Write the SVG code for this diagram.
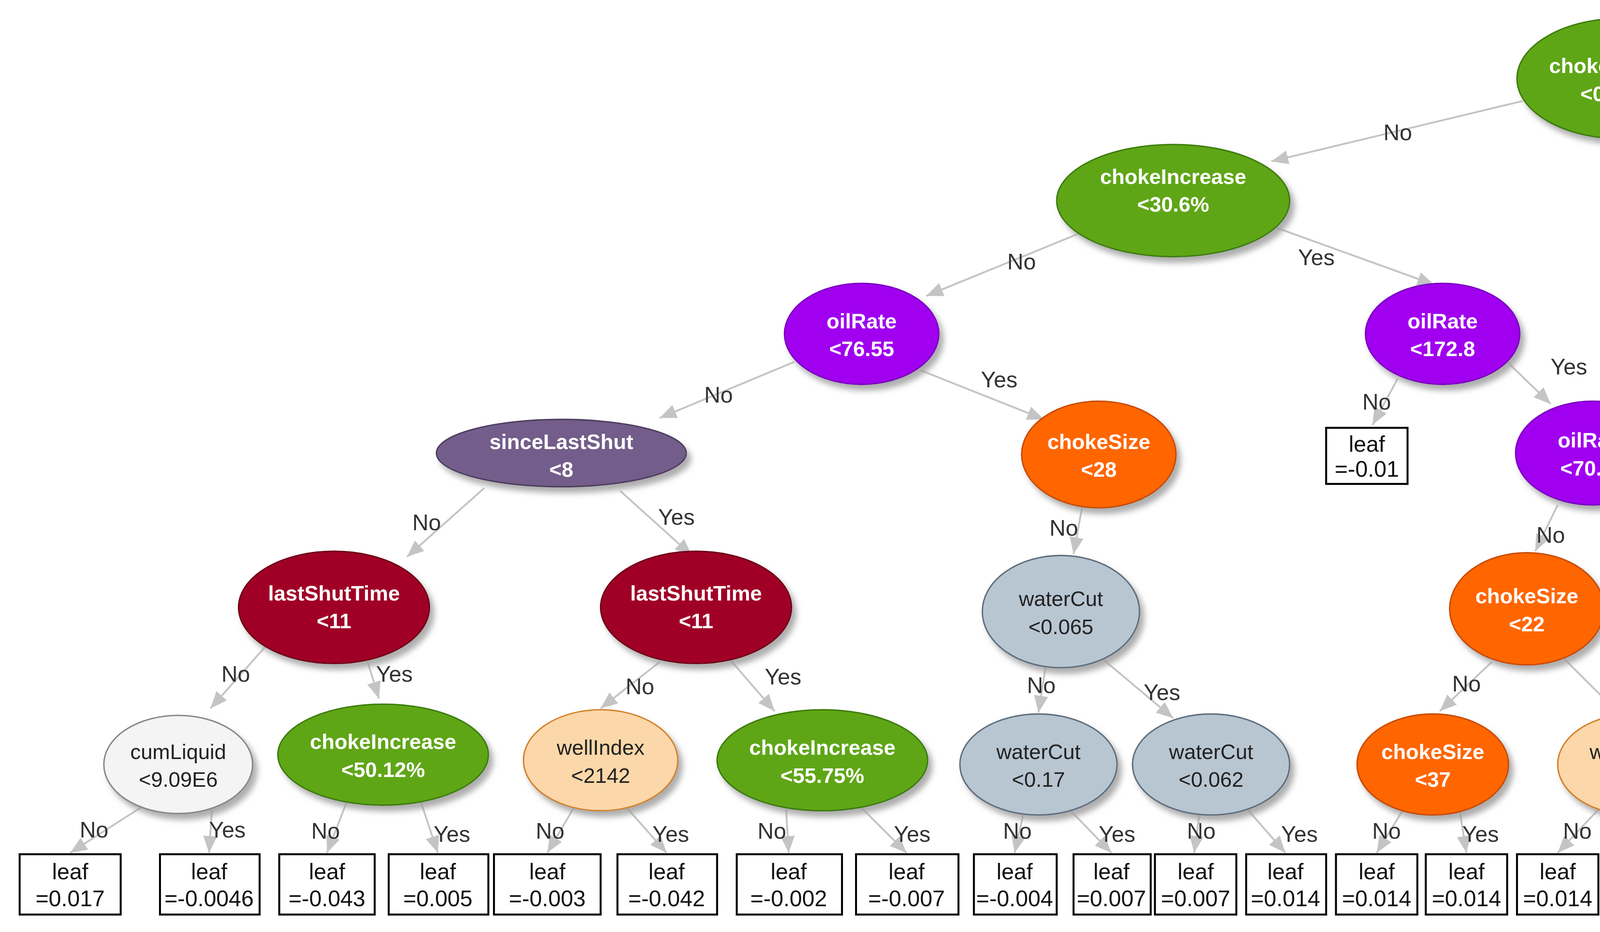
<svg xmlns="http://www.w3.org/2000/svg" width="5633" height="2387" viewBox="0 0 5633 2387">
<style>
.t{font-family:"Liberation Sans",Arial,sans-serif;text-anchor:middle}
.w{fill:#fff;font-size:15px;font-weight:bold}
.d{fill:#222;font-size:15px}
.lf{fill:#111;font-size:16px}
.el{fill:#333;font-size:16px;font-family:"Liberation Sans",Arial,sans-serif;text-anchor:middle}
.e{stroke:#c4c4c4;stroke-width:1.3;fill:none;marker-end:url(#ah)}
.box{fill:#fff;stroke:#000;stroke-width:1.4}
.g{fill:#5ea618;stroke:#3e7c0c}
.p{fill:#a000ef;stroke:#7c00c0}
.s{fill:#735d8a;stroke:#4e3d60}
.r{fill:#a00028;stroke:#700018}
.o{fill:#ff6600;stroke:#c84c00}
.pe{fill:#fbd7a9;stroke:#d4822a}
.b{fill:#b8c6d2;stroke:#5e6e7e}
.c{fill:#f4f4f4;stroke:#888}
.n{filter:url(#sh)}
</style>
<defs>
<marker id="ah" markerUnits="userSpaceOnUse" markerWidth="12" markerHeight="10" viewBox="0 0 12 10" refX="12" refY="5" orient="auto"><path d="M0,0 L12,5 L0,10 z" fill="#c4c4c4"/></marker>
<filter id="sh" x="-20%" y="-20%" width="150%" height="150%"><feDropShadow dx="3" dy="4" stdDeviation="2" flood-color="#999" flood-opacity="0.8"/></filter>
</defs>
<rect width="5633" height="2387" fill="#fff"/>
<g transform="scale(3.5925)">
<g id="connectors">
<line class="e" x1="1085" y1="72" x2="906" y2="115"/><text class="el" x="996" y="100">No</text>
<line class="e" x1="1227" y1="72" x2="1397" y2="115"/><text class="el" x="1313" y="100">Yes</text>
<line class="e" x1="770" y1="166" x2="660" y2="211"/><text class="el" x="728" y="192">No</text>
<line class="e" x1="903" y1="160" x2="1022" y2="203"/><text class="el" x="938" y="189">Yes</text>
<line class="e" x1="566" y1="258" x2="470" y2="298"/><text class="el" x="512" y="287">No</text>
<line class="e" x1="656" y1="264" x2="744" y2="299"/><text class="el" x="712" y="276">Yes</text>
<line class="e" x1="996" y1="270" x2="978" y2="303"/><text class="el" x="981" y="292">No</text>
<line class="e" x1="1073" y1="257" x2="1105" y2="288"/><text class="el" x="1118" y="267">Yes</text>
<line class="e" x1="345" y1="348" x2="290" y2="397"/><text class="el" x="304" y="378">No</text>
<line class="e" x1="442" y1="350" x2="493" y2="396"/><text class="el" x="482" y="374">Yes</text>
<line class="e" x1="771" y1="362" x2="765" y2="395"/><text class="el" x="758" y="382">No</text>
<line class="e" x1="1110" y1="360" x2="1094" y2="393"/><text class="el" x="1105" y="387">No</text>
<line class="e" x1="1185" y1="340" x2="1280" y2="394"/><text class="el" x="1262" y="363">Yes</text>
<line class="e" x1="190" y1="460" x2="150" y2="505"/><text class="el" x="168" y="486">No</text>
<line class="e" x1="262" y1="472" x2="270" y2="498"/><text class="el" x="281" y="486">Yes</text>
<line class="e" x1="470" y1="472" x2="428" y2="505"/><text class="el" x="456" y="495">No</text>
<line class="e" x1="520" y1="470" x2="552" y2="507"/><text class="el" x="558" y="488">Yes</text>
<line class="e" x1="745" y1="476" x2="740" y2="508"/><text class="el" x="742" y="494">No</text>
<line class="e" x1="786" y1="470" x2="836" y2="512"/><text class="el" x="828" y="499">Yes</text>
<line class="e" x1="1063" y1="472" x2="1026" y2="507"/><text class="el" x="1045" y="493">No</text>
<line class="e" x1="1115" y1="470" x2="1152" y2="507"/><text class="el" x="1166" y="495">Yes</text>
<line class="e" x1="1305" y1="455" x2="1295" y2="508"/><text class="el" x="1298" y="488">No</text>
<line class="e" x1="1370" y1="452" x2="1400" y2="507"/><text class="el" x="1411" y="492">Yes</text>
<line class="e" x1="103" y1="574" x2="50" y2="608"/><text class="el" x="67" y="597">No</text>
<line class="e" x1="151" y1="577" x2="149" y2="608"/><text class="el" x="162" y="597">Yes</text>
<line class="e" x1="247" y1="572" x2="233" y2="608"/><text class="el" x="232" y="598">No</text>
<line class="e" x1="300" y1="572" x2="312" y2="608"/><text class="el" x="322" y="600">Yes</text>
<line class="e" x1="410" y1="574" x2="390" y2="608"/><text class="el" x="392" y="598">No</text>
<line class="e" x1="445" y1="574" x2="475" y2="608"/><text class="el" x="478" y="600">Yes</text>
<line class="e" x1="560" y1="574" x2="562" y2="608"/><text class="el" x="550" y="598">No</text>
<line class="e" x1="612" y1="574" x2="646" y2="608"/><text class="el" x="650" y="600">Yes</text>
<line class="e" x1="730" y1="577" x2="723" y2="608"/><text class="el" x="725" y="598">No</text>
<line class="e" x1="762" y1="577" x2="792" y2="608"/><text class="el" x="796" y="600">Yes</text>
<line class="e" x1="855" y1="578" x2="851" y2="608"/><text class="el" x="856" y="598">No</text>
<line class="e" x1="888" y1="576" x2="916" y2="608"/><text class="el" x="926" y="600">Yes</text>
<line class="e" x1="1000" y1="577" x2="981" y2="608"/><text class="el" x="988" y="598">No</text>
<line class="e" x1="1040" y1="577" x2="1045" y2="608"/><text class="el" x="1055" y="600">Yes</text>
<line class="e" x1="1140" y1="576" x2="1110" y2="608"/><text class="el" x="1124" y="598">No</text>
<line class="e" x1="1184" y1="577" x2="1174" y2="608"/><text class="el" x="1185" y="600">Yes</text>
<line class="e" x1="1270" y1="577" x2="1245" y2="608"/><text class="el" x="1251" y="598">No</text>
<line class="e" x1="1310" y1="577" x2="1309" y2="608"/><text class="el" x="1320" y="600">Yes</text>
<line class="e" x1="1393" y1="577" x2="1373" y2="608"/><text class="el" x="1385" y="598">No</text>
<line class="e" x1="1432" y1="576" x2="1437" y2="608"/><text class="el" x="1450" y="604">Yes</text>
</g>
<g id="n-root" class="n"><ellipse class="g" cx="1156" cy="56" rx="75" ry="43"/><text class="t w" x="1156" y="52">chokeIncrease</text><text class="t w" x="1156" y="72">&lt;0.714%</text></g>
<g id="n-more" class="n"><ellipse cx="1473" cy="134" rx="79" ry="35" fill="#fff" stroke="#000" stroke-width="1.3"/><text class="t d" x="1473" y="139">......</text></g>
<g id="n-ci30" class="n"><ellipse class="g" cx="836" cy="143" rx="83" ry="40"/><text class="t w" x="836" y="131">chokeIncrease</text><text class="t w" x="836" y="151">&lt;30.6%</text></g>
<g id="n-oil76" class="n"><ellipse class="p" cx="614" cy="238" rx="55" ry="36"/><text class="t w" x="614" y="234">oilRate</text><text class="t w" x="614" y="254">&lt;76.55</text></g>
<g id="n-oil172" class="n"><ellipse class="p" cx="1028" cy="238" rx="55" ry="36"/><text class="t w" x="1028" y="234">oilRate</text><text class="t w" x="1028" y="254">&lt;172.8</text></g>
<g id="n-sls8" class="n"><ellipse class="s" cx="400" cy="323" rx="89" ry="24"/><text class="t w" x="400" y="320">sinceLastShut</text><text class="t w" x="400" y="340">&lt;8</text></g>
<g id="n-cs28" class="n"><ellipse class="o" cx="783" cy="324" rx="55" ry="38"/><text class="t w" x="783" y="320">chokeSize</text><text class="t w" x="783" y="340">&lt;28</text></g>
<g id="n-leaf01"><rect class="box" x="945" y="305" width="58" height="40"/><text class="t lf" x="974" y="322">leaf</text><text class="t lf" x="974" y="340">=-0.01</text></g>
<g id="n-oil70" class="n"><ellipse class="p" cx="1135" cy="323" rx="55" ry="37"/><text class="t w" x="1135" y="319">oilRate</text><text class="t w" x="1135" y="339">&lt;70.68</text></g>
<g id="n-lst11a" class="n"><ellipse class="r" cx="238" cy="433" rx="68" ry="40"/><text class="t w" x="238" y="428">lastShutTime</text><text class="t w" x="238" y="448">&lt;11</text></g>
<g id="n-lst11b" class="n"><ellipse class="r" cx="496" cy="433" rx="68" ry="40"/><text class="t w" x="496" y="428">lastShutTime</text><text class="t w" x="496" y="448">&lt;11</text></g>
<g id="n-wc065" class="n"><ellipse class="b" cx="756" cy="436" rx="56" ry="40"/><text class="t d" x="756" y="432">waterCut</text><text class="t d" x="756" y="452">&lt;0.065</text></g>
<g id="n-cs22" class="n"><ellipse class="o" cx="1088" cy="434" rx="55" ry="40"/><text class="t w" x="1088" y="430">chokeSize</text><text class="t w" x="1088" y="450">&lt;22</text></g>
<g id="n-sls316" class="n"><ellipse class="s" cx="1319" cy="425" rx="90" ry="30"/><text class="t w" x="1319" y="421">sinceLastShut</text><text class="t w" x="1319" y="441">&lt;316</text></g>
<g id="n-cum" class="n"><ellipse class="c" cx="127" cy="545" rx="53" ry="35"/><text class="t d" x="127" y="541">cumLiquid</text><text class="t d" x="127" y="561">&lt;9.09E6</text></g>
<g id="n-ci50" class="n"><ellipse class="g" cx="273" cy="538" rx="75" ry="36"/><text class="t w" x="273" y="534">chokeIncrease</text><text class="t w" x="273" y="554">&lt;50.12%</text></g>
<g id="n-wi2142" class="n"><ellipse class="pe" cx="428" cy="542" rx="55" ry="36"/><text class="t d" x="428" y="538">wellIndex</text><text class="t d" x="428" y="558">&lt;2142</text></g>
<g id="n-ci55" class="n"><ellipse class="g" cx="586" cy="542" rx="75" ry="36"/><text class="t w" x="586" y="538">chokeIncrease</text><text class="t w" x="586" y="558">&lt;55.75%</text></g>
<g id="n-wc017" class="n"><ellipse class="b" cx="740" cy="545" rx="56" ry="36"/><text class="t d" x="740" y="541">waterCut</text><text class="t d" x="740" y="561">&lt;0.17</text></g>
<g id="n-wc062" class="n"><ellipse class="b" cx="863" cy="545" rx="56" ry="36"/><text class="t d" x="863" y="541">waterCut</text><text class="t d" x="863" y="561">&lt;0.062</text></g>
<g id="n-cs37" class="n"><ellipse class="o" cx="1021" cy="545" rx="54" ry="36"/><text class="t w" x="1021" y="541">chokeSize</text><text class="t w" x="1021" y="561">&lt;37</text></g>
<g id="n-wi872" class="n"><ellipse class="pe" cx="1164" cy="545" rx="54" ry="36"/><text class="t d" x="1164" y="541">wellIndex</text><text class="t d" x="1164" y="561">&lt;872</text></g>
<g id="n-wi2477" class="n"><ellipse class="pe" cx="1291" cy="545" rx="54" ry="36"/><text class="t d" x="1291" y="541">wellIndex</text><text class="t d" x="1291" y="561">&lt;2477</text></g>
<g id="n-oil419" class="n"><ellipse class="p" cx="1412" cy="545" rx="55" ry="36"/><text class="t w" x="1412" y="541">oilRate</text><text class="t w" x="1412" y="561">&lt;4.19</text></g>
<g id="leaf1"><rect class="box" x="14" y="609" width="72" height="43"/><text class="t lf" x="50" y="627">leaf</text><text class="t lf" x="50" y="646">=0.017</text></g>
<g id="leaf2"><rect class="box" x="114" y="609" width="71" height="43"/><text class="t lf" x="149" y="627">leaf</text><text class="t lf" x="149" y="646">=-0.0046</text></g>
<g id="leaf3"><rect class="box" x="199" y="609" width="68" height="43"/><text class="t lf" x="233" y="627">leaf</text><text class="t lf" x="233" y="646">=-0.043</text></g>
<g id="leaf4"><rect class="box" x="277" y="609" width="71" height="43"/><text class="t lf" x="312" y="627">leaf</text><text class="t lf" x="312" y="646">=0.005</text></g>
<g id="leaf5"><rect class="box" x="352" y="609" width="76" height="43"/><text class="t lf" x="390" y="627">leaf</text><text class="t lf" x="390" y="646">=-0.003</text></g>
<g id="leaf6"><rect class="box" x="440" y="609" width="71" height="43"/><text class="t lf" x="475" y="627">leaf</text><text class="t lf" x="475" y="646">=-0.042</text></g>
<g id="leaf7"><rect class="box" x="525" y="609" width="75" height="43"/><text class="t lf" x="562" y="627">leaf</text><text class="t lf" x="562" y="646">=-0.002</text></g>
<g id="leaf8"><rect class="box" x="610" y="609" width="73" height="43"/><text class="t lf" x="646" y="627">leaf</text><text class="t lf" x="646" y="646">=-0.007</text></g>
<g id="leaf9"><rect class="box" x="694" y="609" width="59" height="43"/><text class="t lf" x="723" y="627">leaf</text><text class="t lf" x="723" y="646">=-0.004</text></g>
<g id="leaf10"><rect class="box" x="765" y="609" width="55" height="43"/><text class="t lf" x="792" y="627">leaf</text><text class="t lf" x="792" y="646">=0.007</text></g>
<g id="leaf11"><rect class="box" x="823" y="609" width="58" height="43"/><text class="t lf" x="852" y="627">leaf</text><text class="t lf" x="852" y="646">=0.007</text></g>
<g id="leaf12"><rect class="box" x="888" y="609" width="57" height="43"/><text class="t lf" x="916" y="627">leaf</text><text class="t lf" x="916" y="646">=0.014</text></g>
<g id="leaf13"><rect class="box" x="952" y="609" width="58" height="43"/><text class="t lf" x="981" y="627">leaf</text><text class="t lf" x="981" y="646">=0.014</text></g>
<g id="leaf14"><rect class="box" x="1016" y="609" width="58" height="43"/><text class="t lf" x="1045" y="627">leaf</text><text class="t lf" x="1045" y="646">=0.014</text></g>
<g id="leaf15"><rect class="box" x="1081" y="609" width="58" height="43"/><text class="t lf" x="1110" y="627">leaf</text><text class="t lf" x="1110" y="646">=0.014</text></g>
<g id="leaf16"><rect class="box" x="1145" y="609" width="59" height="43"/><text class="t lf" x="1174" y="627">leaf</text><text class="t lf" x="1174" y="646">=0.014</text></g>
<g id="leaf17"><rect class="box" x="1216" y="609" width="58" height="43"/><text class="t lf" x="1245" y="627">leaf</text><text class="t lf" x="1245" y="646">=0.014</text></g>
<g id="leaf18"><rect class="box" x="1280" y="609" width="58" height="43"/><text class="t lf" x="1309" y="627">leaf</text><text class="t lf" x="1309" y="646">=0.014</text></g>
<g id="leaf19"><rect class="box" x="1344" y="609" width="58" height="43"/><text class="t lf" x="1373" y="627">leaf</text><text class="t lf" x="1373" y="646">=0.014</text></g>
<g id="leaf20"><rect class="box" x="1408" y="609" width="58" height="43"/><text class="t lf" x="1437" y="627">leaf</text><text class="t lf" x="1437" y="646">=0.014</text></g>
</g>
</svg>
